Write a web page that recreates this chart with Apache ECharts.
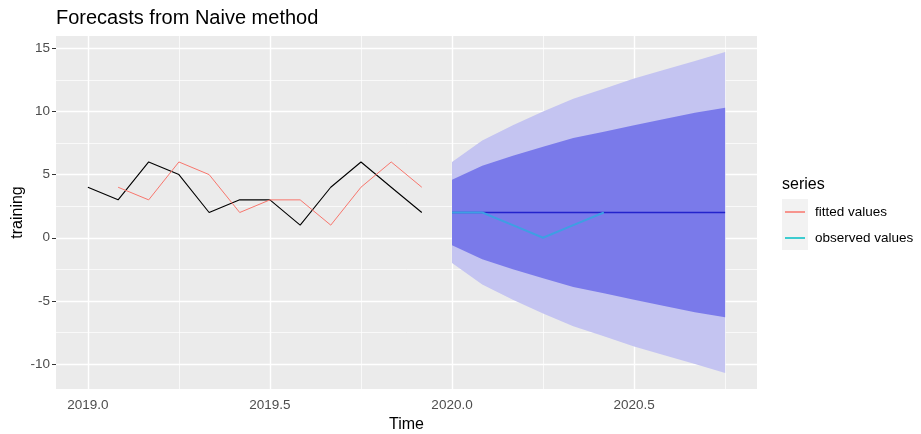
<!DOCTYPE html>
<html>
<head>
<meta charset="utf-8">
<script src="https://cdn.jsdelivr.net/npm/echarts@6/dist/echarts.min.js"></script>
<style>html,body{margin:0;padding:0;background:#fff}#c{width:921px;height:434px}</style>
</head>
<body>
<div id="c"></div>
<script>
// ---- data ----
const trainX = [2019.000, 2019.083, 2019.167, 2019.250, 2019.333, 2019.417, 2019.500, 2019.583, 2019.667, 2019.750, 2019.833, 2019.917];
const training = [4, 3, 6, 5, 2, 3, 3, 1, 4, 6, 4, 2];
const fitted = [null, 4, 3, 6, 5, 2, 3, 3, 1, 4, 6, 4];
const fcX = [2020.000, 2020.083, 2020.167, 2020.250, 2020.333, 2020.417, 2020.500, 2020.583, 2020.667, 2020.750];
const fcMean = [2, 2, 2, 2, 2, 2, 2, 2, 2, 2];
const hi80 = [4.6, 5.7, 6.5, 7.2, 7.9, 8.4, 8.9, 9.4, 9.9, 10.3];
const lo80 = [-0.6, -1.7, -2.5, -3.2, -3.9, -4.4, -4.9, -5.4, -5.9, -6.3];
const hi95 = [6.0, 7.7, 8.9, 10.0, 11.0, 11.8, 12.6, 13.3, 14.0, 14.7];
const lo95 = [-2.0, -3.7, -4.9, -6.0, -7.0, -7.8, -8.6, -9.3, -10.0, -10.7];
const obsX = [2020.000, 2020.083, 2020.167, 2020.250, 2020.333, 2020.417];
const observed = [2, 2, 1, 0, 1, 2];
const xTicks = [2019.0, 2019.5, 2020.0, 2020.5];
const xMinor = [2019.25, 2019.75, 2020.25, 2020.75];
const yTicks = [-10, -5, 0, 5, 10, 15];
const yMinor = [-7.5, -2.5, 2.5, 7.5, 12.5];

const FONT = "'Liberation Sans', Arial, sans-serif";
const chart = echarts.init(document.getElementById('c'), null, {renderer: 'canvas'});

function pairs(xs, ys) {
  const out = [];
  xs.forEach((x, i) => { if (ys[i] !== null && ys[i] !== undefined) out.push([x, ys[i]]); });
  return out;
}
function band(hi, lo, color, z) {
  return {
    type: 'custom', z: z, silent: true,
    data: [[fcX[0], fcMean[0]]],
    encode: {x: 0, y: 1},
    renderItem: function (params, api) {
      const up = fcX.map((x, i) => api.coord([x, hi[i]]));
      const dn = fcX.map((x, i) => api.coord([x, lo[i]])).reverse();
      return {type: 'polygon', shape: {points: up.concat(dn)}, style: {fill: color, stroke: null}};
    }
  };
}
const gridLines = [];
xTicks.forEach(v => gridLines.push({xAxis: v, lineStyle: {color: '#ffffff', width: 1.4, type: 'solid'}}));
xMinor.forEach(v => gridLines.push({xAxis: v, lineStyle: {color: '#ffffff', width: 0.7, type: 'solid'}}));
yTicks.forEach(v => gridLines.push({yAxis: v, lineStyle: {color: '#ffffff', width: 1.4, type: 'solid'}}));
yMinor.forEach(v => gridLines.push({yAxis: v, lineStyle: {color: '#ffffff', width: 0.7, type: 'solid'}}));

const option = {
  animation: false,
  backgroundColor: '#ffffff',
  textStyle: {fontFamily: FONT},
  title: [
    {text: 'Forecasts from Naive method', left: 56, top: 8, padding: 0,
     textStyle: {fontFamily: FONT, fontSize: 20, fontWeight: 'normal', color: '#000', lineHeight: 21}},
    {text: 'series', left: 782, top: 176, padding: 0,
     textStyle: {fontFamily: FONT, fontSize: 16, fontWeight: 'normal', color: '#000', lineHeight: 18}}
  ],
  graphic: [
    {type: 'rect', z: 0, silent: true, shape: {x: 782, y: 199, width: 26, height: 51}, style: {fill: '#F2F2F2'}}
  ],
  legend: {
    left: 785, top: 199, orient: 'vertical', padding: 0, itemGap: 0,
    itemWidth: 20, itemHeight: 1.5, icon: 'rect', z: 5,
    selectedMode: false,
    textStyle: {fontFamily: FONT, fontSize: 13.5, color: '#000', lineHeight: 26, padding: [0, 0, 0, 5]},
    data: [
      {name: 'fitted values', itemStyle: {color: '#F8766D'}},
      {name: 'observed values', itemStyle: {color: '#00BFC4'}}
    ]
  },
  grid: {left: 56, right: 164, top: 36, bottom: 45, show: true, backgroundColor: '#EBEBEB', borderWidth: 0,
         containLabel: false, outerBoundsMode: 'none'},
  xAxis: {
    type: 'value', min: 2018.9125, max: 2020.8375,
    name: 'Time', nameLocation: 'middle', nameGap: 28, nameMoveOverlap: false,
    nameTextStyle: {fontFamily: FONT, fontSize: 16, color: '#000'},
    axisLine: {show: false},
    axisTick: {show: true, length: 4, customValues: xTicks, lineStyle: {color: '#333333', width: 1}},
    axisLabel: {customValues: xTicks, color: '#4D4D4D', fontSize: 13.5, fontFamily: FONT, margin: 9,
      formatter: v => Number(v).toFixed(1)},
    splitLine: {show: false}, minorSplitLine: {show: false}
  },
  yAxis: {
    type: 'value', min: -11.97, max: 15.97,
    name: 'training', nameLocation: 'middle', nameGap: 30, nameRotate: 90, nameMoveOverlap: false,
    nameTextStyle: {fontFamily: FONT, fontSize: 16, color: '#000'},
    axisLine: {show: false},
    axisTick: {show: true, length: 4, customValues: yTicks, lineStyle: {color: '#333333', width: 1}},
    axisLabel: {customValues: yTicks, color: '#4D4D4D', fontSize: 13.5, fontFamily: FONT, margin: 6,
      formatter: v => String(Math.round(v))},
    splitLine: {show: false}, minorSplitLine: {show: false}
  },
  series: [
    {name: 'grid', type: 'line', data: [], silent: true, z: 1,
     markLine: {silent: true, z: 1, symbol: 'none', animation: false, label: {show: false},
       emphasis: {disabled: true}, data: gridLines}},
    band(hi95, lo95, '#C4C4F1', 2),
    band(hi80, lo80, '#7A7AEA', 3),
    {name: 'point forecast', type: 'line', z: 4, silent: true, showSymbol: false, symbol: 'none',
     data: pairs(fcX, fcMean), lineStyle: {color: '#2222CC', width: 1.6}},
    {name: 'training', type: 'line', z: 4, silent: true, showSymbol: false, symbol: 'none',
     data: pairs(trainX, training), lineStyle: {color: '#000000', width: 1.1}},
    {name: 'fitted values', type: 'line', z: 4, silent: true, showSymbol: false, symbol: 'none',
     data: pairs(trainX, fitted), itemStyle: {color: '#F8766D'}, lineStyle: {color: '#F8766D', width: 1}},
    {name: 'observed values', type: 'line', z: 5, silent: true, showSymbol: false, symbol: 'none',
     data: pairs(obsX, observed), itemStyle: {color: '#00BFC4'}, lineStyle: {color: '#3E9FE3', width: 2}}
  ]
};
chart.setOption(option);
</script>
</body>
</html>
